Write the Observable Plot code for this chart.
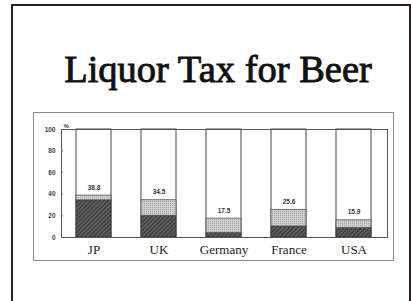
<!DOCTYPE html>
<html><head><meta charset="utf-8">
<script src="https://cdn.jsdelivr.net/npm/d3@7"></script>
<script src="https://cdn.jsdelivr.net/npm/@observablehq/plot@0.6"></script>
<style>
body{margin:0;background:#fff;width:411px;height:301px;overflow:hidden;position:relative}
#page{position:absolute;left:11px;top:4px;width:396px;height:320px;border:2px solid #2a2220;border-bottom:none}
#title{position:absolute;left:218px;top:50px;transform:translateX(-50%);white-space:nowrap;font-family:'Liberation Serif','DejaVu Serif',serif;font-size:38.5px;line-height:38px;color:#111;-webkit-text-stroke:0.9px #111}
#box{position:absolute;left:33px;top:112px;width:361px;height:149px;box-sizing:border-box;border:1.5px solid #8a8a8a}
#chart{position:absolute;left:34px;top:113px}
</style></head>
<body>
<div id="page"></div>
<div id="title">Liquor Tax for Beer</div>
<div id="box"></div>
<div id="chart"></div>
<script>
const countries = ["JP", "UK", "Germany", "France", "USA"];
const darkValues = [34.4, 20.1, 4.1, 10.2, 8.7];
const totalValues = [38.8, 34.5, 17.5, 25.6, 15.9];
const totalLabels = ["38.8", "34.5", "17.5", "25.6", "15.9"];
const yTicks = [0, 20, 40, 60, 80, 100];

const rows = countries.map((c, i) => ({
  country: c, dark: darkValues[i], total: totalValues[i], label: totalLabels[i], full: 100
}));

const chart = Plot.plot({
  width: 360,
  height: 148,
  marginLeft: 27,
  marginTop: 16,
  marginRight: 7,
  marginBottom: 24,
  style: {background: "transparent", fontFamily: "Liberation Sans, Arial, sans-serif", color: "#333"},
  x: {domain: countries, paddingInner: 0.46, paddingOuter: 0.23, label: null},
  y: {domain: [0, 100], label: null},
  marks: [
    Plot.barY(rows, {x: "country", y: "full", fill: "white", stroke: "#444", strokeWidth: 1}),
    Plot.barY(rows, {x: "country", y1: 0, y2: "dark", fill: "url(#hatch)", stroke: "#333", strokeWidth: 0.8}),
    Plot.barY(rows, {x: "country", y1: "dark", y2: "total", fill: "url(#dots)", stroke: "#555", strokeWidth: 0.8}),
    Plot.text(rows, {x: "country", y: "total", text: "label", dy: -8, fontSize: 6.5, fontWeight: "bold", fill: "#333"}),
    Plot.frame({stroke: "#555", strokeWidth: 1}),
    Plot.axisY({ticks: yTicks, tickSize: -2, tickPadding: 8, fontSize: 6.5, fontWeight: "bold", stroke: "#666", fill: "#444"}),
    Plot.axisX({tickSize: 0, tickPadding: 7, fontSize: 13, fontFamily: "Liberation Serif, DejaVu Serif, serif", fill: "#222"}),
    Plot.text(["%"], {frameAnchor: "top-left", dx: 2, dy: -6, fontSize: 6, fontWeight: "bold", fill: "#333"})
  ]
});

const defs = d3.create("svg:defs");
defs.html(`
  <pattern id="hatch" width="3" height="3" patternUnits="userSpaceOnUse" patternTransform="rotate(45)">
    <rect width="3" height="3" fill="#5a5a5a"/>
    <line x1="0" y1="0" x2="0" y2="3" stroke="#2e2e2e" stroke-width="1.4"/>
  </pattern>
  <pattern id="dots" width="2" height="2" patternUnits="userSpaceOnUse">
    <rect width="2" height="2" fill="#cfcfcf"/>
    <rect width="1" height="1" fill="#a8a8a8"/>
  </pattern>`);
chart.prepend(defs.node());
document.getElementById("chart").appendChild(chart);
</script>
</body></html>
